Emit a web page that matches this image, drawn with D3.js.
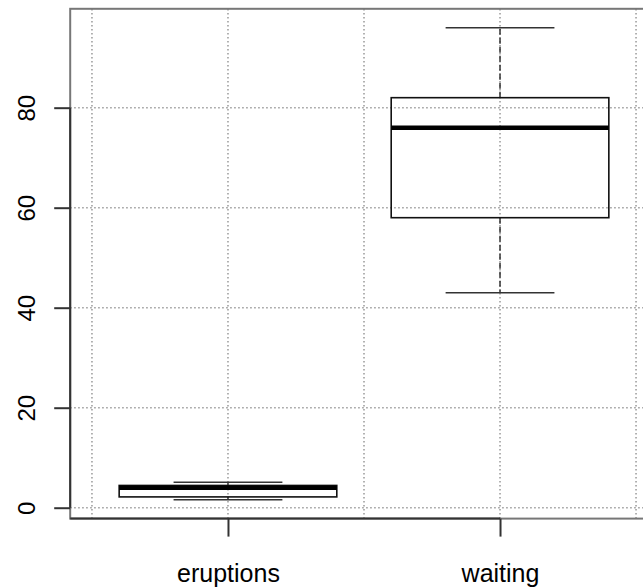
<!DOCTYPE html>
<html>
<head>
<meta charset="utf-8">
<script src="https://cdn.jsdelivr.net/npm/d3@7"></script>
<style>
  body { margin: 0; background: #fff; }
  text { font-family: "Liberation Sans", Arial, sans-serif; fill: #000; }
</style>
</head>
<body>
<div class="chart"></div>
<script>
// Data: five-number summaries of the faithful dataset

const categories = ["eruptions", "waiting"];
const mins = [1.6, 43];
const q1s = [2.163, 58];
const medians = [4.0, 76];
const q3s = [4.454, 82];
const maxs = [5.1, 96];
const yTicks = [0, 20, 40, 60, 80];
const xGrid = [0.5, 1, 1.5, 2, 2.5];

const data = categories.map((c, i) => ({
  name: c,
  pos: i + 1,
  min: mins[i],
  q1: q1s[i],
  median: medians[i],
  q3: q3s[i],
  max: maxs[i],
}));

// Measurements

const W = 643;
const H = 588;
const boxWex = 0.8;

const svg = d3
  .select(".chart")
  .append("svg")
  .attr("width", W)
  .attr("height", H);

// Scales (R style: 4% padding on each side)

const xScale = d3.scaleLinear().domain([0.42, 2.58]).range([70.2, 657.8]);
const yScale = d3.scaleLinear().domain([-2.176, 99.776]).range([518.6, 8.8]);

const [x0, x1] = xScale.range();
const [yb, yt] = yScale.range();

// Grid

const gridColor = "#999";
svg
  .append("g")
  .selectAll("line")
  .data(xGrid)
  .enter()
  .append("line")
  .attr("x1", (d) => xScale(d))
  .attr("x2", (d) => xScale(d))
  .attr("y1", yb)
  .attr("y2", yt)
  .attr("stroke", gridColor)
  .attr("stroke-width", 1.5)
  .attr("stroke-dasharray", "1.5,2.5");

svg
  .append("g")
  .selectAll("line")
  .data(yTicks)
  .enter()
  .append("line")
  .attr("x1", x0)
  .attr("x2", x1)
  .attr("y1", (d) => yScale(d))
  .attr("y2", (d) => yScale(d))
  .attr("stroke", gridColor)
  .attr("stroke-width", 1.5)
  .attr("stroke-dasharray", "1.5,2.5");

// Boxes

const bw = (xScale(1 + boxWex / 2) - xScale(1 - boxWex / 2));
const boxes = svg.selectAll(".box").data(data).enter().append("g").attr("class", "box");

// whiskers
boxes
  .append("line")
  .attr("x1", (d) => xScale(d.pos))
  .attr("x2", (d) => xScale(d.pos))
  .attr("y1", (d) => yScale(d.q3))
  .attr("y2", (d) => yScale(d.max))
  .attr("stroke", "#333")
  .attr("stroke-width", 1.5)
  .attr("stroke-dasharray", "6,3");
boxes
  .append("line")
  .attr("x1", (d) => xScale(d.pos))
  .attr("x2", (d) => xScale(d.pos))
  .attr("y1", (d) => yScale(d.q1))
  .attr("y2", (d) => yScale(d.min))
  .attr("stroke", "#333")
  .attr("stroke-width", 1.5)
  .attr("stroke-dasharray", "6,3");

// staples
["min", "max"].forEach((k) => {
  boxes
    .append("line")
    .attr("x1", (d) => xScale(d.pos) - bw / 4)
    .attr("x2", (d) => xScale(d.pos) + bw / 4)
    .attr("y1", (d) => yScale(d[k]))
    .attr("y2", (d) => yScale(d[k]))
    .attr("stroke", "#333")
    .attr("stroke-width", 1.5);
});

// box
boxes
  .append("rect")
  .attr("x", (d) => xScale(d.pos) - bw / 2)
  .attr("width", bw)
  .attr("y", (d) => yScale(d.q3))
  .attr("height", (d) => yScale(d.q1) - yScale(d.q3))
  .attr("fill", "none")
  .attr("stroke", "#111")
  .attr("stroke-width", 1.6);

// median
boxes
  .append("line")
  .attr("x1", (d) => xScale(d.pos) - bw / 2)
  .attr("x2", (d) => xScale(d.pos) + bw / 2)
  .attr("y1", (d) => yScale(d.median))
  .attr("y2", (d) => yScale(d.median))
  .attr("stroke", "#000")
  .attr("stroke-width", 4.5);

// Plot frame

svg
  .append("rect")
  .attr("x", x0)
  .attr("y", yt)
  .attr("width", x1 - x0)
  .attr("height", yb - yt)
  .attr("fill", "none")
  .attr("stroke", "#777")
  .attr("stroke-width", 2);

// Axes

const yAxis = svg
  .append("g")
  .attr("transform", `translate(${x0}, 0)`)
  .call(d3.axisLeft(yScale).tickValues(yTicks).tickSize(16).tickFormat(d3.format("d")));

yAxis.select(".domain").remove();
yAxis.selectAll(".tick line").attr("stroke", "#333").attr("stroke-width", 2);
yAxis
  .selectAll(".tick text")
  .attr("x", null)
  .attr("dy", null)
  .attr("text-anchor", "middle")
  .attr("transform", "translate(-35, 0) rotate(-90)")
  .style("font-size", "24px");
yAxis
  .append("line")
  .attr("y1", yScale(yTicks[0]))
  .attr("y2", yScale(yTicks[yTicks.length - 1]))
  .attr("stroke", "#333")
  .attr("stroke-width", 2);

const xAxis = svg
  .append("g")
  .attr("transform", `translate(0, ${yb})`)
  .call(
    d3
      .axisBottom(xScale)
      .tickValues(data.map((d) => d.pos))
      .tickSize(18)
      .tickFormat((d) => categories[d - 1])
  );

xAxis.select(".domain").remove();
xAxis.selectAll(".tick line").attr("stroke", "#333").attr("stroke-width", 2);
xAxis
  .selectAll(".tick text")
  .attr("y", 63.5)
  .attr("dy", null)
  .style("font-size", "25px");
xAxis
  .append("line")
  .attr("x1", x0)
  .attr("x2", xScale(2))
  .attr("stroke", "#333")
  .attr("stroke-width", 2);
</script>
</body>
</html>
